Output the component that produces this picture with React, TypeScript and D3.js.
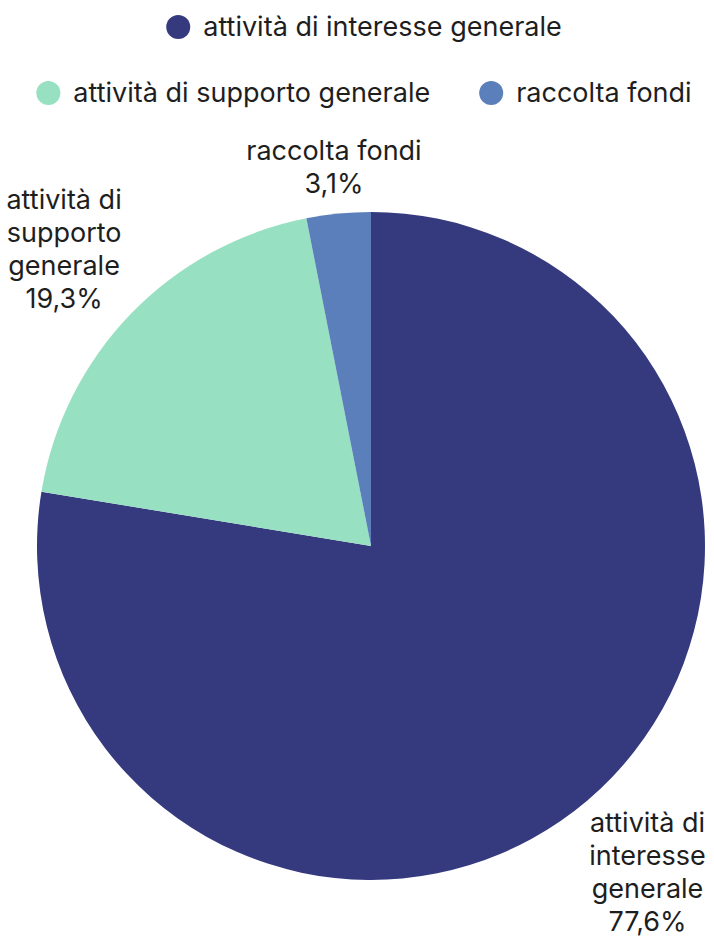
import React, { useEffect, useRef } from "react";
import * as d3 from "d3";

const categories = ["attività di interesse generale", "attività di supporto generale", "raccolta fondi"];
const values = [77.6, 19.3, 3.1];
const labelLines = [["attività di", "interesse", "generale"], ["attività di", "supporto", "generale"], ["raccolta fondi"]];
const colors = ["#353a7e", "#98e0c2", "#5b7fbb"];

const W = 714;
const H = 940;
const FONT = "Inter, 'Noto Sans', sans-serif";

export default function App() {
  const ref = useRef<SVGSVGElement>(null);
  useEffect(() => {
    const svg = d3.select(ref.current);
    svg.selectAll("*").remove();
    const cx = 371, cy = 546, R = 334;
    const fs = 27;
    const lh = 33;

    // Legend
    const legendRows = [[0], [1, 2]];
    const legendY = [27, 93];
    const legendCenter = 364;
    legendRows.forEach((row, ri) => {
      const g = svg.append("g");
      let x = 0;
      row.forEach((idx, k) => {
        if (k > 0) x += 49;
        g.append("circle").attr("cx", x + 12).attr("cy", legendY[ri]).attr("r", 12).attr("fill", colors[idx]);
        const t = g.append("text").attr("x", x + 37).attr("y", legendY[ri]).attr("dy", "0.35em")
          .attr("font-family", FONT).attr("font-size", fs).attr("fill", "#1e1e1e").text(categories[idx]);
        const w = (t.node() as SVGTextElement).getComputedTextLength();
        x += 37 + w;
      });
      g.attr("transform", `translate(${legendCenter - x / 2},0)`);
    });

    const pie = d3.pie<number>().sort(null).value((d) => d);
    const arcs = pie(values);
    const arc = d3.arc<d3.PieArcDatum<number>>().innerRadius(0).outerRadius(R);
    const pg = svg.append("g").attr("transform", `translate(${cx},${cy})`);
    pg.selectAll("path").data(arcs).join("path").attr("d", arc as any).attr("fill", (_, i) => colors[i]);

    arcs.forEach((a, i) => {
      const mid = (a.startAngle + a.endAngle) / 2;
      const dx = Math.sin(mid), dy = -Math.cos(mid);
      const lines = [...labelLines[i], d3.format(".1f")(values[i]).replace(".", ",") + "%"];
      const g = svg.append("g");
      lines.forEach((l, j) => {
        g.append("text").attr("x", 0).attr("y", j * lh).attr("dy", "0.35em").attr("text-anchor", "middle")
          .attr("font-family", FONT).attr("font-size", fs).attr("fill", "#1e1e1e").text(l);
      });
      const h = lines.length * lh;
      const rl = R + 0.7 * h + 1;
      const px = cx + dx * rl;
      const py = cy + dy * rl;
      g.attr("transform", `translate(${px},${py - (h - lh) / 2})`);
    });
  }, []);
  return (
    <svg ref={ref} width={W} height={H} style={{ position: "absolute", left: 0, top: 0, background: "#fff" }} />
  );
}
